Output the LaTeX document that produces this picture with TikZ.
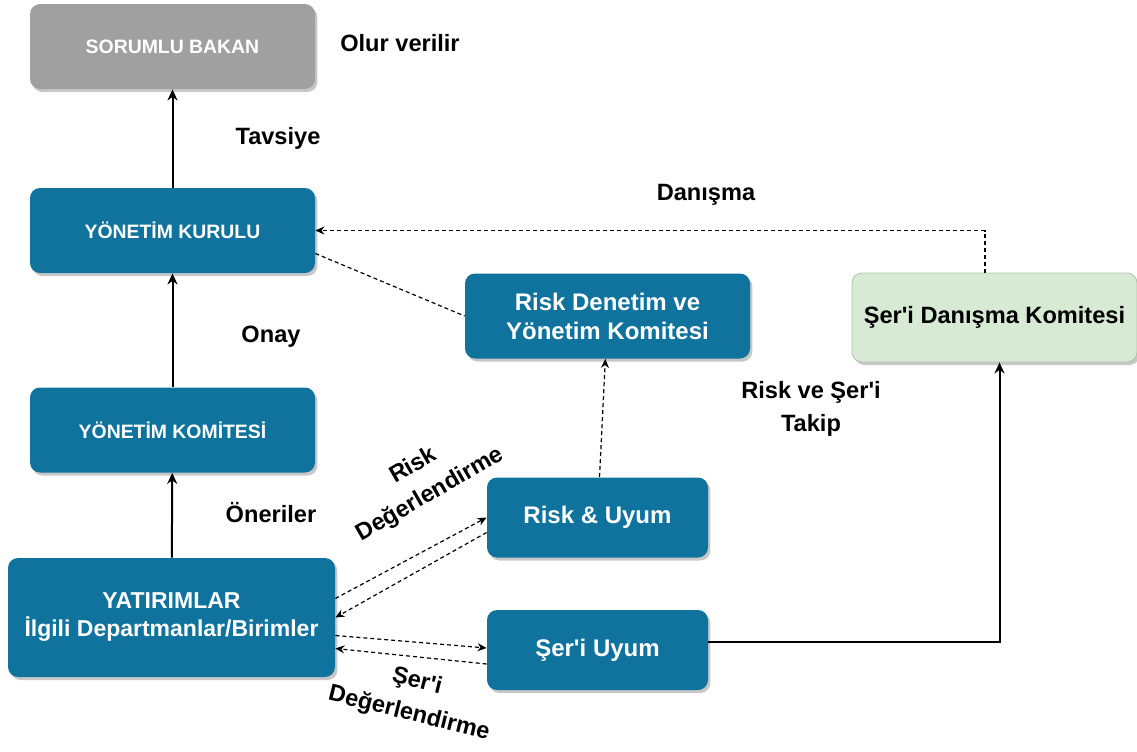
\documentclass[tikz,border=0pt]{standalone}
\usepackage{fontspec}
\setmainfont{Liberation Sans}[Ligatures=TeXOff]
\usepackage{tikz}
\usetikzlibrary{positioning, arrows.meta, shadows}
\definecolor{BoxBlue}{RGB}{16, 115, 158}
\definecolor{BoxGrey}{RGB}{160, 160, 160}
\definecolor{BoxGreen}{RGB}{215, 234, 212}
\definecolor{GreenLine}{RGB}{175, 195, 170}

\tikzset{
    unit/.style={rounded corners=5pt, align=center, text=white, fill=BoxBlue,
        minimum width=142.5pt, minimum height=42.5pt,
        drop shadow={shadow xshift=1.2pt, shadow yshift=-1.5pt, fill=black, opacity=0.22}},
    capsunit/.style={unit, font=\bfseries\fontsize{9.7}{11}\selectfont},
    textunit/.style={unit, font=\bfseries\fontsize{12}{14.5}\selectfont},
    lbl/.style={font=\bfseries\fontsize{11.8}{16.5}\selectfont, align=center},
    flow/.style={line width=1pt, -{Stealth[length=5.5pt, width=5pt]}},
    link/.style={line width=0.6pt, dash pattern=on 2pt off 1.5pt},
    dflow/.style={link, -{Stealth[length=4.5pt, width=4pt]}}
}

\begin{document}
\begin{tikzpicture}[x=0.5pt, y=-0.5pt]
    \useasboundingbox (0,0) rectangle (1137,751);

    % Left column
    \node[capsunit, fill=BoxGrey] (bakan) at (172.5,46.5) {SORUMLU BAKAN};
    \node[capsunit] (kurul) at (172.5,230.5) {YÖNETİM KURULU};
    \node[capsunit] (komite) at (172.5,430) {YÖNETİM KOMİTESİ};
    \node[textunit, font=\bfseries\fontsize{11.5}{14}\selectfont,
        minimum width=163.5pt, minimum height=59.5pt] (yatirim) at (171.5,617.5)
        {YATIRIMLAR\\İlgili Departmanlar/Birimler};

    % Middle column
    \node[textunit] (rdyk) at (607.5,316) {Risk Denetim ve\\Yönetim Komitesi};
    \node[textunit, minimum width=110.5pt, minimum height=40pt] (riskuyum) at (597.5,517.5) {Risk \& Uyum};
    \node[textunit, minimum width=110.5pt, minimum height=40pt] (seriuyum) at (597.5,650) {Şer'i Uyum};

    % Right column
    \node[unit, fill=BoxGreen, draw=GreenLine, text=black, font=\bfseries\fontsize{11.8}{15}\selectfont,
        minimum height=44.5pt] (danisma) at (994.5,317.5) {Şer'i Danışma Komitesi};

    % Solid arrows
    \draw[flow] (kurul) -- (bakan);
    \draw[flow] (komite) -- (kurul);
    \draw[flow] (yatirim) -- (komite);
    \draw[flow] ([yshift=4pt]seriuyum.east) -| ([xshift=2.5pt]danisma.south);

    % Dashed links
    \draw[dflow] ([xshift=-4.75pt]danisma.north) |- (kurul.east);
    \draw[link] ([yshift=-11.5pt]kurul.east) -- (rdyk.west);
    \draw[dflow] (riskuyum) -- (rdyk);
    \draw[dflow] ([yshift=9.5pt]yatirim.east) -- (riskuyum.west);
    \draw[dflow] ([yshift=-7.5pt]riskuyum.west) -- (yatirim.east);
    \draw[dflow] ([yshift=-9pt]yatirim.east) -- ([yshift=1pt]seriuyum.west);
    \draw[dflow] ([yshift=-7pt]seriuyum.west) -- ([yshift=-15.5pt]yatirim.east);

    % Labels
    \node[lbl] (olur) at (400,43.5) {Olur verilir};
    \node[lbl] (tavsiye) at (278,138) {Tavsiye};
    \node[lbl] (onay) at (271,337) {Onay};
    \node[lbl] (oneri) at (271,513) {Öneriler};
    \node[lbl] (danis) at (706,195) {Danışma};
    \node[lbl] (takip) at (811,409) {Risk ve Şer'i\\Takip};
    \node[lbl, rotate=30] (riskdeg) at (422,480.5) {Risk\\Değerlendirme};
    \node[lbl, rotate=-14] (serideg) at (413,698) {Şer'i\\Değerlendirme};
\end{tikzpicture}
\end{document}
